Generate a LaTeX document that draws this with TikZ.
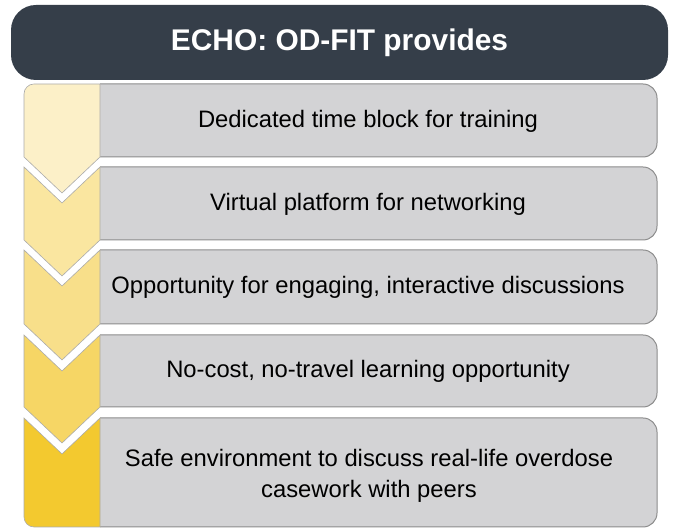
\documentclass[tikz,border=0pt]{standalone}
\usepackage{fontspec}
\setmainfont{Liberation Sans}
\usepackage{tikz}

\definecolor{headbg}{HTML}{353E49}
\definecolor{rowgray}{HTML}{D3D3D5}
\definecolor{rowedge}{HTML}{8C8C8C}
\definecolor{chevedge}{HTML}{ABABAB}
\definecolor{stepone}{HTML}{FCF0C8}
\definecolor{steptwo}{HTML}{FAE6A0}
\definecolor{stepthree}{HTML}{F8DF8A}
\definecolor{stepfour}{HTML}{F6D665}
\definecolor{stepfive}{HTML}{F3C92F}

\tikzset{
  rowfill/.style={fill=rowgray},
  rowline/.style={draw=rowedge, line width=1pt},
  chevron/.style={draw=chevedge, line width=0.6pt, line join=miter},
  itemtext/.style={font=\fontsize{23.8}{31}\selectfont, align=center, text=black},
}

\begin{document}
\begin{tikzpicture}[x=1pt,y=1pt]
        \useasboundingbox (0,0) rectangle (675,529);

        % title bar
        \fill[headbg, rounded corners=25pt] (11,449) rectangle (668,524);
        \node[text=white, font=\bfseries\fontsize{29.9}{34}\selectfont] (title) at (339.5,486) {ECHO: OD-FIT provides};

        % gray rows, square on the left, round on the right
        \fill[rowfill] (100,445) [rounded corners=14pt] -- (657,445) -- (657,372) [sharp corners] -- (100,372) -- cycle;
        \fill[rowfill] (100,362) [rounded corners=14pt] -- (657,362) -- (657,289) [sharp corners] -- (100,289) -- cycle;
        \fill[rowfill] (100,279) [rounded corners=14pt] -- (657,279) -- (657,205) [sharp corners] -- (100,205) -- cycle;
        \fill[rowfill] (100,194) [rounded corners=14pt] -- (657,194) -- (657,122) [sharp corners] -- (100,122) -- cycle;
        \fill[rowfill] (100,111) [rounded corners=14pt] -- (657,111) -- (657,2) [sharp corners] -- (100,2) -- cycle;
        \draw[rowline, rounded corners=14pt] (100,445) -- (657,445) -- (657,372) -- (100,372);
        \draw[rowline, rounded corners=14pt] (100,362) -- (657,362) -- (657,289) -- (100,289);
        \draw[rowline, rounded corners=14pt] (100,279) -- (657,279) -- (657,205) -- (100,205);
        \draw[rowline, rounded corners=14pt] (100,194) -- (657,194) -- (657,122) -- (100,122);
        \draw[rowline, rounded corners=14pt] (100,111) -- (657,111) -- (657,2) -- (100,2);

        % chevrons down the left side
        \filldraw[chevron, fill=stepone] (62,336) -- (24,372) [rounded corners=10pt] -- (24,445) [sharp corners] -- (100,445) -- (100,372) -- cycle;
        \filldraw[chevron, fill=steptwo] (24,362) -- (62,326) -- (100,362) -- (100,289) -- (62,253) -- (24,289) -- cycle;
        \filldraw[chevron, fill=stepthree] (24,279) -- (62,243) -- (100,279) -- (100,205) -- (62,169) -- (24,205) -- cycle;
        \filldraw[chevron, fill=stepfour] (24,194) -- (62,158) -- (100,194) -- (100,122) -- (62,86) -- (24,122) -- cycle;
        \filldraw[chevron, fill=stepfive] (24,111) -- (62,75) -- (100,111) -- (100,2) [rounded corners=10pt] -- (24,2) [sharp corners] -- cycle;

        % row texts
        \node[itemtext] (time) at (368,408) {Dedicated time block for training};
        \node[itemtext] (virtual) at (368,325) {Virtual platform for networking};
        \node[itemtext] (discuss) at (368,242) {Opportunity for engaging, interactive discussions};
        \node[itemtext] (nocost) at (368,158) {No-cost, no-travel learning opportunity};
        \node[itemtext] (safe) at (369,53) {Safe environment to discuss real-life overdose\\casework with peers};
      \end{tikzpicture}
\end{document}
